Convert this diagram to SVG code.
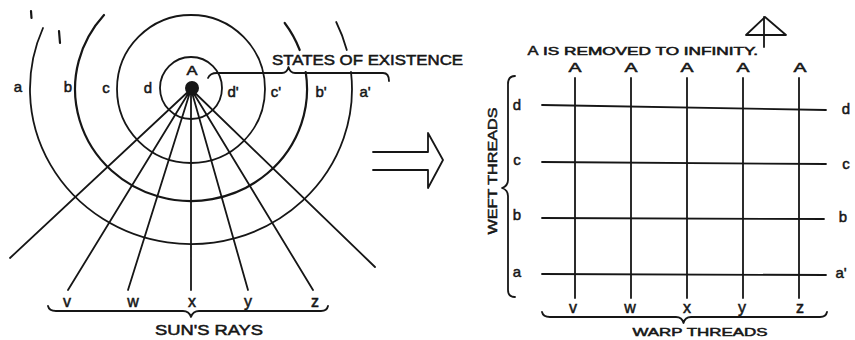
<svg xmlns="http://www.w3.org/2000/svg" width="855" height="340" viewBox="0 0 855 340">
<style>
.ln{fill:none;stroke:#161616;stroke-width:1.8;stroke-linecap:round;stroke-linejoin:round}
.th{stroke-width:2.2}
.tx{font-family:"Liberation Sans",Arial,sans-serif;fill:#161616;stroke:#161616;stroke-width:0.5;text-anchor:middle}
</style>
<rect width="855" height="340" fill="#ffffff"/>

<g id="left-figure">
  <g id="circles">
    <circle class="ln" cx="191" cy="88" r="31"/>
    <circle class="ln" cx="191" cy="89" r="74"/>
    <path class="ln th" d="M104,15 A116,112 0 1 0 305.7,72"/>
    <path class="ln th" d="M284.7,23 A116,112 0 0 1 299.7,50"/>
    <path class="ln" d="M43,28 A161,155 0 1 0 351,72"/>
    <path class="ln" d="M336.2,22 A161,155 0 0 1 346.8,50"/>
    <path class="ln th" d="M31,11 L31.5,18 M59,31 L60,43"/>
  </g>
  <g id="rays">
    <path class="ln" d="M191,89 L10,258 M191,89 L68,290 M191,89 L128,290 M191,89 L191,290 M191,89 L248,290 M191,89 L313,290 M191,89 L375,267"/>
  </g>
  <g id="sun">
    <circle cx="192" cy="88" r="7" fill="#161616"/>
    <text class="tx" x="192" y="75" font-size="12" textLength="11" lengthAdjust="spacingAndGlyphs">A</text>
  </g>
  <g id="states-labels">
    <text class="tx" x="18" y="92" font-size="15">a</text>
    <text class="tx" x="68" y="92" font-size="15">b</text>
    <text class="tx" x="106" y="93" font-size="15">c</text>
    <text class="tx" x="148" y="93" font-size="15">d</text>
    <text class="tx" x="233" y="97" font-size="15">d'</text>
    <text class="tx" x="276" y="97" font-size="15">c'</text>
    <text class="tx" x="321" y="97" font-size="15">b'</text>
    <text class="tx" x="365" y="97" font-size="15">a'</text>
  </g>
  <g id="states-of-existence">
    <path class="ln" d="M208,78 Q210,73 217,73 L282,73 Q287,73 288.5,67 Q290,73 295,73 L383,73 Q389,73 389,81"/>
    <text class="tx" x="367.5" y="65" font-size="14" textLength="191" lengthAdjust="spacingAndGlyphs">STATES OF EXISTENCE</text>
  </g>
  <g id="suns-rays">
    <text class="tx" x="67" y="307" font-size="16">v</text>
    <text class="tx" x="133" y="307" font-size="16">w</text>
    <text class="tx" x="192" y="307" font-size="16">x</text>
    <text class="tx" x="248" y="307" font-size="16">y</text>
    <text class="tx" x="315" y="307" font-size="16">z</text>
    <path class="ln" d="M48,306 Q49,311 56,311 L183,311 Q189,311 191,317 Q193,311 199,311 L321,311 Q327,311 328,306"/>
    <text class="tx" x="209" y="335" font-size="14" textLength="108" lengthAdjust="spacingAndGlyphs">SUN'S RAYS</text>
  </g>
</g>

<g id="arrow">
  <polyline class="ln" points="373,152 428,152 428,133 443,160 428,188 428,170 373,170"/>
</g>

<g id="right-figure">
  <g id="infinity-note">
    <text class="tx" x="533" y="55" font-size="12.5" textLength="11" lengthAdjust="spacingAndGlyphs">A</text>
    <text class="tx" x="650.5" y="55" font-size="10" textLength="215" lengthAdjust="spacingAndGlyphs">IS REMOVED TO INFINITY.</text>
    <path class="ln" d="M746,35 L765,17 L786,35 Z M764,17 L764,47"/>
  </g>
  <g id="warp">
    <path class="ln" d="M575,78 L575,298 M631,78 L631,298 M687,78 L687,298 M743,78 L743,298 M799,78 L799,298"/>
    <text class="tx" x="575" y="72" font-size="12" textLength="13" lengthAdjust="spacingAndGlyphs">A</text>
    <text class="tx" x="631" y="72" font-size="12" textLength="13" lengthAdjust="spacingAndGlyphs">A</text>
    <text class="tx" x="687" y="72" font-size="12" textLength="13" lengthAdjust="spacingAndGlyphs">A</text>
    <text class="tx" x="743" y="72" font-size="12" textLength="13" lengthAdjust="spacingAndGlyphs">A</text>
    <text class="tx" x="800" y="72" font-size="12" textLength="13" lengthAdjust="spacingAndGlyphs">A</text>
    <text class="tx" x="573" y="313" font-size="16">v</text>
    <text class="tx" x="630" y="313" font-size="16">w</text>
    <text class="tx" x="687" y="313" font-size="16">x</text>
    <text class="tx" x="742" y="313" font-size="16">y</text>
    <text class="tx" x="800" y="313" font-size="16">z</text>
    <path class="ln" d="M542,312 Q543,317 550,317 L676,317 Q682,317 683.5,323 Q685,317 691,317 L820,317 Q826,317 827,312"/>
    <text class="tx" x="700" y="336" font-size="11" textLength="135" lengthAdjust="spacingAndGlyphs">WARP THREADS</text>
  </g>
  <g id="weft">
    <path class="ln" d="M542,105 L826,110 M542,162 L826,164"/>
    <path class="ln" d="M542,218 L824,219" stroke-width="2.8"/>
    <path class="ln" d="M542,274 L826,275"/>
    <text class="tx" x="517" y="110" font-size="15">d</text>
    <text class="tx" x="517" y="165" font-size="15">c</text>
    <text class="tx" x="517" y="220" font-size="15">b</text>
    <text class="tx" x="517" y="277" font-size="15">a</text>
    <text class="tx" x="846" y="114" font-size="15">d</text>
    <text class="tx" x="846" y="169" font-size="15">c</text>
    <text class="tx" x="843" y="222" font-size="15">b</text>
    <text class="tx" x="841" y="278" font-size="15">a'</text>
    <path class="ln" d="M515,76 Q508,76 508,84 L508,180 Q508,186 502,188 Q508,190 508,196 L508,290 Q508,297 515,297"/>
    <text class="tx" x="0" y="0" font-size="13" textLength="127" lengthAdjust="spacingAndGlyphs" transform="translate(497,171) rotate(-90)">WEFT THREADS</text>
  </g>
</g>
</svg>
